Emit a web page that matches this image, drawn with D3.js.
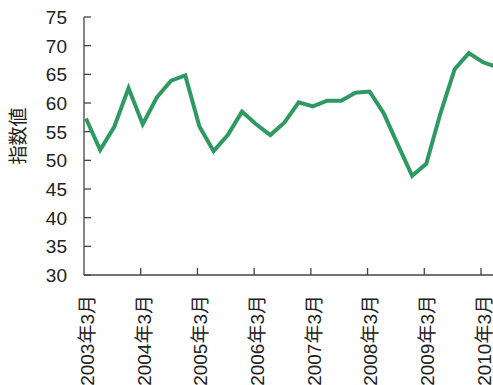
<!DOCTYPE html>
<html>
<head>
<meta charset="utf-8">
<script src="https://cdn.jsdelivr.net/npm/d3@7"></script>
<style>
body { margin: 0; background: #fff; }
svg { display: block; }
text { font-family: "Liberation Sans", Arial, "Noto Sans CJK JP", sans-serif; fill: #222; }
</style>
</head>
<body>
<svg id="chart" width="493" height="385"></svg>
<script>
// quarterly index values, 2003年3月 .. 2010年6月
var quarters = d3.range(30)
var values = [57.3, 51.8, 55.9, 62.6, 56.3, 61.0, 63.9, 64.8,
              55.9, 51.6, 54.4, 58.5, 56.3, 54.4, 56.6, 60.1,
              59.4, 60.4, 60.4, 61.8, 62.0, 58.2, 52.7, 47.3,
              49.4, 58.2, 65.9, 68.7, 67.1, 66.3]
var xTickIdx = [0, 4, 8, 12, 16, 20, 24, 28]
var xTickLabels = ["2003年3月", "2004年3月", "2005年3月", "2006年3月",
                   "2007年3月", "2008年3月", "2009年3月", "2010年3月"]
var yTicks = [30, 35, 40, 45, 50, 55, 60, 65, 70, 75]

var svg = d3.select("#chart")
var plotLeft = 84, plotTop = 17, plotBottom = 275

var xScale = d3.scaleLinear().domain([0, 28]).range([plotLeft, 481])
var yScale = d3.scaleLinear().domain([30, 75]).range([plotBottom, plotTop])

// y axis
var yAxis = svg.append("g").attr("transform", "translate(" + plotLeft + ",0)")
yAxis.append("line")
    .attr("x1", 0).attr("x2", 0)
    .attr("y1", yScale(75)).attr("y2", yScale(30))
    .attr("stroke", "#444").attr("stroke-width", 1.3)
yAxis.selectAll(".yt").data(yTicks).enter().append("line")
    .attr("x1", 0).attr("x2", 7)
    .attr("y1", function(d){ return yScale(d) })
    .attr("y2", function(d){ return yScale(d) })
    .attr("stroke", "#444").attr("stroke-width", 1.3)
yAxis.selectAll(".yl").data(yTicks).enter().append("text")
    .attr("x", -17)
    .attr("y", function(d){ return yScale(d) })
    .attr("dy", "0.36em")
    .attr("text-anchor", "end")
    .style("font-size", "19px")
    .text(function(d){ return d })

// x axis
var xAxis = svg.append("g").attr("transform", "translate(0," + plotBottom + ")")
xAxis.append("line")
    .attr("x1", plotLeft).attr("x2", 493)
    .attr("y1", 0).attr("y2", 0)
    .attr("stroke", "#444").attr("stroke-width", 1.3)
xAxis.selectAll(".xt").data(xTickIdx.slice(1)).enter().append("line")
    .attr("x1", function(d){ return xScale(d) })
    .attr("x2", function(d){ return xScale(d) })
    .attr("y1", 0).attr("y2", -7)
    .attr("stroke", "#444").attr("stroke-width", 1.3)
xAxis.selectAll(".xl").data(xTickIdx).enter().append("text")
    .attr("transform", function(d){ return "translate(" + (xScale(d) + 3) + ",20) rotate(-90)" })
    .attr("dy", "0.36em")
    .attr("text-anchor", "end")
    .style("font-size", "19px")
    .text(function(d, i){ return xTickLabels[i] })

// y label
svg.append("text")
    .attr("transform", "translate(18,136) rotate(-90)")
    .attr("dy", "0.36em")
    .attr("text-anchor", "middle")
    .style("font-size", "19px")
    .style("font-family", "'Noto Sans CJK JP', sans-serif")
    .text("指数値")

// line
var line = d3.line()
    .x(function(d){ return xScale(d) + 2 })
    .y(function(d, i){ return yScale(values[i]) })

svg.append("path")
    .datum(quarters)
    .attr("d", line)
    .attr("fill", "none")
    .attr("stroke", "#2e9a62")
    .attr("stroke-width", 4)
    .attr("stroke-linejoin", "miter")
</script>
</body>
</html>
